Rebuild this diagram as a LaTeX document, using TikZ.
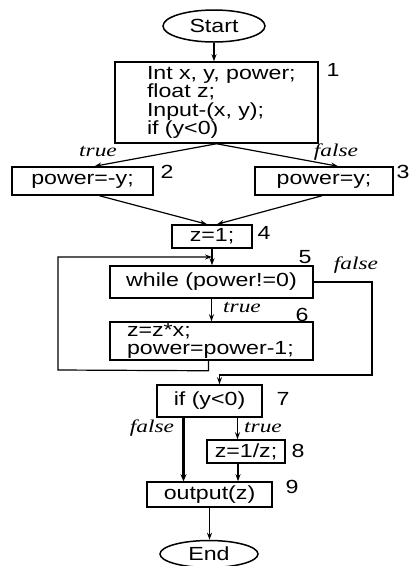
\documentclass[tikz,border=0pt]{standalone}
\usepackage{fontspec}
\setmainfont{Liberation Sans}[FakeStretch=1.22]
\newfontfamily\lblfont{Liberation Serif}[FakeStretch=1.3]
\usetikzlibrary{shapes.geometric,arrows.meta}
\begin{document}
\begin{tikzpicture}[x=1pt,y=-1pt,
  box/.style={draw, line width=1.5pt, inner sep=0pt, align=left,
    font=\fontsize{19}{18.3}\selectfont},
  term/.style={draw, ellipse, line width=1.5pt, inner sep=0pt,
    font=\fontsize{19}{19}\selectfont},
  num/.style={inner sep=0pt, font=\fontsize{19}{19}\selectfont},
  lbl/.style={inner sep=0pt, font=\lblfont\itshape\fontsize{18}{18}\selectfont},
  flow/.style={line width=1.2pt, -{Stealth[length=7pt,width=5pt]}},
  thickflow/.style={line width=2.4pt, -{Stealth[length=7pt,width=6pt]}},
]
\useasboundingbox (0,0) rectangle (411,566);

% nodes
\node[term, minimum width=102pt, minimum height=32pt] (start) at (214,26) {Start};
\node[box, minimum width=203pt, minimum height=81pt, text width=139pt] (b1) at (216.5,102.5)
  {\mbox{Int x, y, power;}\\\mbox{float z;}\\\mbox{Input-(x, y);}\\\mbox{if (y<0)}};
\node[box, minimum width=141pt, minimum height=28pt] (b2) at (82.5,181) {power=-y;};
\node[box, minimum width=138pt, minimum height=28pt] (b3) at (324,181) {power=y;};
\node[box, minimum width=80pt, minimum height=23pt] (b4) at (212,236.5) {z=1;};
\node[box, minimum width=203pt, minimum height=32pt] (b5) at (211.5,282) {while (power!=0)};
\node[box, minimum width=203pt, minimum height=38pt, text width=169pt] (b6) at (211.5,341)
  {\mbox{z=z*x;}\\\mbox{power=power-1;}};
\node[box, minimum width=105pt, minimum height=32pt] (b7) at (209.5,401) {if (y<0)};
\node[box, minimum width=78pt, minimum height=23pt] (b8) at (246,451.5) {z=1/z;};
\node[box, minimum width=125pt, minimum height=25pt] (b9) at (209.5,494.5) {output(z)};
\node[term, minimum width=98pt, minimum height=27pt] (end) at (209,554) {End};

% numbers
\node[num] (n1) at (333,70) {1};
\node[num] (n2) at (167,172) {2};
\node[num] (n3) at (403,172) {3};
\node[num] (n4) at (264,233) {4};
\node[num] (n5) at (305,257) {5};
\node[num] (n6) at (302,315) {6};
\node[num] (n7) at (283,399) {7};
\node[num] (n8) at (298,451) {8};
\node[num] (n9) at (292,487) {9};

% branch labels
\node[lbl] (t1) at (98,152) {true};
\node[lbl] (f1) at (336,152) {false};
\node[lbl] (f5) at (356,265) {false};
\node[lbl] (t6) at (242,308) {true};
\node[lbl] (f7) at (152,428) {false};
\node[lbl] (t7) at (263,428) {true};

% join point of loop
\coordinate (j) at (212,257);

% connectors
\draw[flow] (start.south) -- (start.south |- b1.north);
\draw[flow] (b1.south) -- ([xshift=12pt]b2.north);
\draw[flow] (b1.south) -- ([xshift=14pt]b3.north);
\draw[flow] ([xshift=17pt]b2.south) -- ([xshift=-5pt]b4.north);
\draw[flow] ([xshift=-2pt]b3.south) -- ([xshift=5pt]b4.north);
\draw[flow] (b4.south) -- (b4.south |- b5.north);
\draw[flow] ([xshift=-3pt]b6.south) -- ++(0,10) -- (58,370) -- (58,257) -- (j);
\draw[flow] (b5.south) -- (b6.north);
\draw[flow] (b5.east) -| (372,375) -| ([xshift=10pt]b7.north);
\draw[thickflow] ([xshift=-26pt]b7.south) -- ([xshift=-26pt]b7.south |- b9.north);
\draw[flow] ([xshift=28pt]b7.south) -- ([xshift=28pt]b7.south |- b8.north);
\draw[flow] ([xshift=-8pt]b8.south) -- ([xshift=-8pt]b8.south |- b9.north);
\draw[flow] (b9.south) -- (b9.south |- end.north);
\end{tikzpicture}
\end{document}
